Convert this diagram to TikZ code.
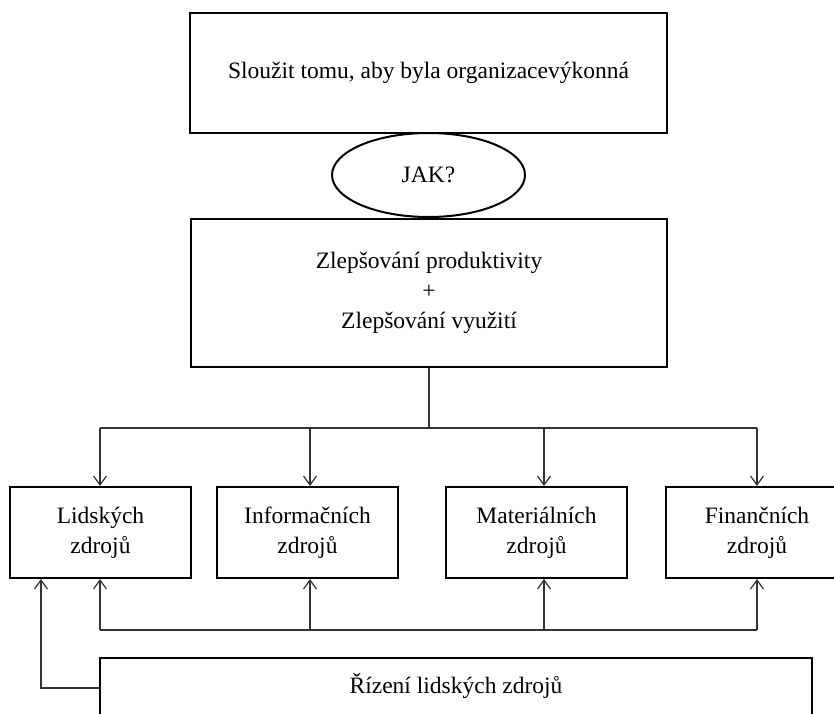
\documentclass[tikz,border=0pt]{standalone}
\usepackage{fontspec}
\setmainfont{Liberation Serif}
\usetikzlibrary{arrows.meta,shapes.geometric}

\begin{document}
\begin{tikzpicture}[x=1pt,y=-1pt,
  every node/.style={font=\fontsize{23.5}{30}\selectfont, align=center, inner sep=0pt},
  box/.style={draw=black, line width=2pt, rectangle, fill=white},
  oval/.style={draw=black, line width=2pt, ellipse, fill=white},
  link/.style={draw=black!80, line width=1.2pt},
  arr/.style={link, -{Straight Barb[length=9pt,width=13pt]}}]

  \clip (0,0) rectangle (834,713);
  \fill[white] (0,0) rectangle (834,713);

  % goal and approach
  \node[box, minimum width=477, minimum height=120] (goal) at (428.5,73)
    {Sloužit tomu, aby byla organizacevýkonná};
  \node[box, minimum width=476, minimum height=148] (impr) at (429,293)
    {Zlepšování produktivity\\+\\Zlepšování využití};
  \node[oval, minimum width=193, minimum height=84] (how) at (428.5,175) {JAK?};

  % resources
  \node[box, minimum width=181, minimum height=91] (r1) at (100.5,532.5) {Lidských\\zdrojů};
  \node[box, minimum width=181, minimum height=91] (r2) at (307.5,532.5) {Informačních\\zdrojů};
  \node[box, minimum width=181, minimum height=91] (r3) at (536.5,532.5) {Materiálních\\zdrojů};
  \node[box, minimum width=182, minimum height=91] (r4) at (757,532.5) {Finančních\\zdrojů};

  % human resource management
  \node[box, anchor=north, minimum width=712, text height=17pt, text depth=5pt,
        inner ysep=18pt] (hrm) at (456,657) {Řízení lidských zdrojů};

  % distribution bus
  \coordinate (t1) at (100,428);
  \coordinate (t2) at (310,428);
  \coordinate (t3) at (544,428);
  \coordinate (t4) at (757,428);
  \draw[link] (impr.south) -- (impr.south |- t1);
  \draw[link] (t1) -- (t4);
  \draw[arr] (t1) -- (t1 |- r1.north);
  \draw[arr] (t2) -- (t2 |- r2.north);
  \draw[arr] (t3) -- (t3 |- r3.north);
  \draw[arr] (t4) -- (t4 |- r4.north);

  % feedback bus
  \coordinate (u1) at (100,630);
  \coordinate (u2) at (310,630);
  \coordinate (u3) at (544,630);
  \coordinate (u4) at (757,630);
  \draw[link] (u1) -- (u4);
  \draw[arr] (u1) -- (u1 |- r1.south);
  \draw[arr] (u2) -- (u2 |- r2.south);
  \draw[arr] (u3) -- (u3 |- r3.south);
  \draw[arr] (u4) -- (u4 |- r4.south);

  % link from management to human resources
  \coordinate (hl) at (41,688);
  \draw[arr] (hrm.west |- hl) -- (hl) -- (hl |- r1.south);
\end{tikzpicture}
\end{document}
